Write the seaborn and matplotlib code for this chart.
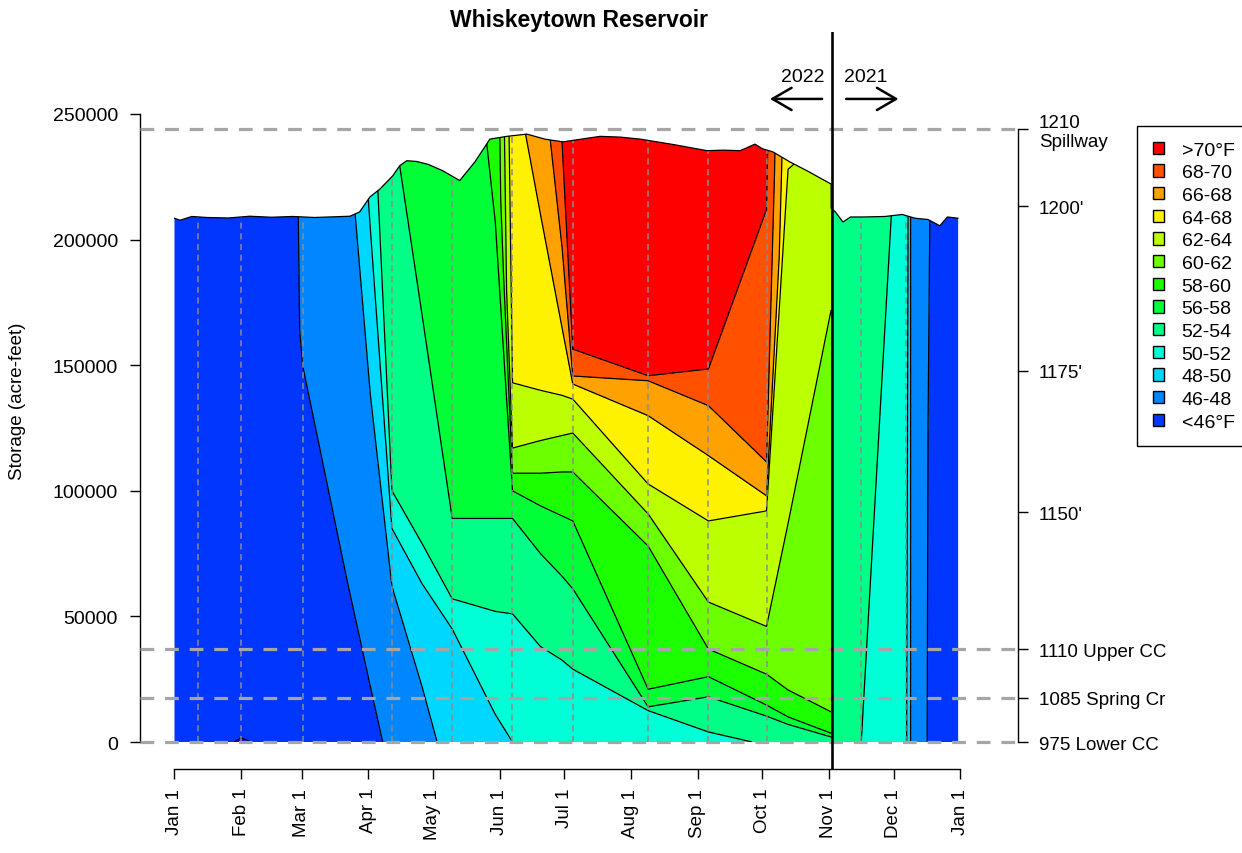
import colorsys
import numpy as np
import matplotlib
matplotlib.use("Agg")
import matplotlib.pyplot as plt
import matplotlib.tri as mtri
from matplotlib.patches import Polygon, Patch
import seaborn as sns

sns.set_theme(style="white")
plt.rcParams['font.family'] = ['Liberation Sans', 'DejaVu Sans']
plt.rcParams['text.color'] = 'black'
plt.rcParams['axes.labelcolor'] = 'black'
plt.rcParams['xtick.color'] = 'black'
plt.rcParams['ytick.color'] = 'black'

# ---------------- data ----------------
# reservoir storage (thousand acre-feet) through the year, 2022 part (Jan 1 - Nov 1)
stor22_day = [0, 2.6, 8, 15, 25, 35, 45, 55, 65, 75, 81.5, 86, 90.8, 95.4, 101.4, 104.6,
              107.9, 112.5, 118, 124.6, 132.5, 139.6, 146.5, 154.4, 163.7, 172, 180.5, 189,
              197.7, 207, 216.3, 232, 247.3, 255, 262.7, 266, 269.6, 273, 278, 285.9, 293.8, 305]
stor22_kaf = [208.5, 207.7, 209.2, 208.8, 208.6, 209.3, 208.9, 209.2, 208.8, 209.1, 209.3, 211.0,
              217.0, 220.1, 225.4, 229.4, 231.4, 231.1, 229.9, 227.4, 223.5, 231.0, 240.0, 241.1,
              242.0, 240.0, 238.9, 240.0, 241.1, 240.8, 240.0, 237.8, 235.4, 235.6, 235.4, 236.6,
              238.0, 236.2, 234.9, 230.9, 227.4, 222.1]
# 2021 part (Nov 1 - Dec 31)
stor21_day = [305, 307, 310.5, 314, 320, 330, 338, 344, 350, 355.5, 359, 364]
stor21_kaf = [212.5, 211.0, 207.0, 209.0, 209.0, 209.2, 210.0, 208.5, 208.0, 205.5, 209.0, 208.5]

# temperature profiles (°F): day of year, storage levels (kaf), temperatures
jan01_day, jan01_s, jan01_t = 0, [0, 250], [45.0, 45.0]
jan11_day, jan11_s, jan11_t = 11, [0, 250], [45.0, 45.0]
jan31_day, jan31_s, jan31_t = 31, [0, 10, 250], [43.8, 45.0, 45.0]
mar01_day, mar01_s, mar01_t = 59.5, [0, 100, 140, 160, 250], [45.0, 45.6, 45.95, 46.05, 46.1]
mar21_day, mar21_s, mar21_t = 80, [0, 65, 150, 210, 250], [45.3, 46.0, 47.0, 47.9, 48.0]
apr01_day, apr01_s, apr01_t = 91, [0, 22, 138, 204, 250], [45.6, 46.0, 48.0, 50.0, 51.0]
apr10_day, apr10_s, apr10_t = 101, [0, 62, 85, 100, 225, 250], [46.3, 48.0, 50.0, 52.0, 55.8, 56.0]
apr25_day, apr25_s, apr25_t = 115, [0, 22, 63, 79, 170, 250], [47.2, 48.0, 50.0, 52.0, 56.0, 57.5]
may09_day, may09_s, may09_t = 129, [0, 45, 57, 89, 250], [48.8, 50.0, 52.0, 56.0, 57.6]
may29_day, may29_s, may29_t = 149, [0, 11, 52, 89, 207, 250], [49.8, 50.0, 52.0, 56.0, 58.0, 58.15]
jun06_day, jun06_s, jun06_t = 157, [0, 51, 89, 100, 107, 117, 143, 250], [50.0, 52.0, 56.0, 58.0, 60.0, 62.0, 64.0, 65.6]
jun19_day, jun19_s, jun19_t = 170, [0, 38, 75, 94, 107, 120, 140, 210, 250], [50.9, 52.0, 56.0, 58.0, 60.0, 62.0, 64.0, 66.0, 66.8]
jun29_day, jun29_s, jun29_t = 180, [0, 32.6, 66, 90, 107.5, 122, 138, 165, 197, 239, 250], [51.0, 52.0, 56.0, 58.0, 60.0, 62.0, 64.0, 66.0, 68.0, 70.0, 70.2]
jul04_day, jul04_s, jul04_t = 185, [0, 29, 61, 88, 107.5, 123, 136.5, 142.5, 145.7, 156.4, 250], [51.0, 52.0, 56.0, 58.0, 60.0, 62.0, 64.0, 66.0, 68.0, 70.0, 72.0]
aug08_day, aug08_s, aug08_t = 220, [0, 12.5, 14, 21, 78, 90.8, 102.7, 129.9, 143.8, 145.8, 250], [50.8, 52.0, 56.0, 58.0, 60.0, 62.0, 64.0, 66.0, 68.0, 70.0, 72.5]
sep05_day, sep05_s, sep05_t = 248, [0, 4, 18, 26, 37, 55.7, 88, 114, 133.9, 148.5, 250], [50.5, 52.0, 56.0, 58.0, 60.0, 62.0, 64.0, 66.0, 68.0, 70.0, 72.0]
oct04_day, oct04_s, oct04_t = 275, [0, 10.3, 14.7, 27, 46, 92, 98, 111.5, 212, 250], [52.5, 56.0, 58.0, 60.0, 62.0, 64.0, 66.0, 68.0, 70.0, 70.5]
oct14_day, oct14_s, oct14_t = 285, [0, 7, 10, 20.7, 87, 228, 250], [53.0, 56.0, 58.0, 60.0, 62.0, 64.0, 64.6]
nov01_day, nov01_s, nov01_t = 305, [0, 2, 3.5, 12, 172, 250], [54.0, 56.0, 58.0, 60.0, 62.0, 64.2]
# 2021 profiles
n01b_day, n01b_s, n01b_t = 305, [0, 250], [53.5, 53.8]
nov15_day, nov15_s, nov15_t = 319, [0, 209, 250], [52.0, 53.6, 53.8]
dec06_day, dec06_s, dec06_t = 340, [0, 209, 250], [50.1, 51.4, 51.5]
dec08_day, dec08_s, dec08_t = 342, [0, 250], [47.9, 47.9]
dec16_day, dec16_s, dec16_t = 350, [0, 250], [45.9, 46.1]
dec31_day, dec31_s, dec31_t = 364, [0, 250], [45.0, 45.0]

# dates of measured profiles (dashed lines)
profile_days = [11, 31, 59.5, 101, 129, 157, 185, 220, 248, 275, 319, 340]

# temperature class boundaries and legend
temp_levels = [40, 44, 46, 48, 50, 52, 56, 58, 60, 62, 64, 66, 68, 70, 80]
legend_labels = [">70°F", "68-70", "66-68", "64-68", "62-64", "60-62", "58-60",
                 "56-58", "52-54", "50-52", "48-50", "46-48", "<46°F"]

# axes annotations
month_days = [0, 31, 59, 90, 120, 151, 181, 212, 243, 273, 304, 334, 365]
month_labels = ["Jan 1", "Feb 1", "Mar 1", "Apr 1", "May 1", "Jun 1", "Jul 1",
                "Aug 1", "Sep 1", "Oct 1", "Nov 1", "Dec 1", "Jan 1"]
storage_ticks = [0, 50000, 100000, 150000, 200000, 250000]
elev_storage = [0, 17600, 36900, 91500, 147800, 213300, 244200]
elev_labels = ["975 Lower CC", "1085 Spring Cr", "1110 Upper CC", "1150'", "1175'",
               "1200'", "1210\nSpillway"]
hline_storage = [244200, 36900, 17600, 0]
break_day = 305.2

# ---------------- helpers ----------------
def rainbow(k):
    return colorsys.hsv_to_rgb(k / 19.0, 1.0, 1.0)

band_colors = [rainbow(k) for k in range(13, -1, -1)]  # low -> high temperature
legend_colors = [rainbow(k) for k in range(13)]


def build(cols):
    """Strip triangulation between neighbouring profiles, pairing points of equal temperature."""
    xs, ys, zs, groups = [], [], [], []
    for day, s, t in cols:
        ids = []
        for sv, tv in zip(s, t):
            ids.append(len(xs))
            xs.append(day)
            ys.append(sv * 1000.0)
            zs.append(tv)
        groups.append(ids)
    tris = []
    for a, b in zip(groups[:-1], groups[1:]):
        i = j = 0
        while i < len(a) - 1 or j < len(b) - 1:
            adv_a = False
            if j == len(b) - 1:
                adv_a = True
            elif i < len(a) - 1:
                adv_a = (zs[a[i + 1]], ys[a[i + 1]]) <= (zs[b[j + 1]], ys[b[j + 1]])
            if adv_a:
                tri = [a[i], b[j], a[i + 1]]
                i += 1
            else:
                tri = [a[i], b[j], b[j + 1]]
                j += 1
            p = [(xs[q], ys[q] / 1000.0) for q in tri]
            area = (p[1][0] - p[0][0]) * (p[2][1] - p[0][1]) - (p[2][0] - p[0][0]) * (p[1][1] - p[0][1])
            if area < 0:
                tri = [tri[0], tri[2], tri[1]]
            tris.append(tri)
    return mtri.Triangulation(np.array(xs), np.array(ys), np.array(tris)), np.array(zs)


cols22 = [(jan01_day, jan01_s, jan01_t), (jan11_day, jan11_s, jan11_t), (jan31_day, jan31_s, jan31_t),
          (mar01_day, mar01_s, mar01_t), (mar21_day, mar21_s, mar21_t), (apr01_day, apr01_s, apr01_t),
          (apr10_day, apr10_s, apr10_t), (apr25_day, apr25_s, apr25_t), (may09_day, may09_s, may09_t),
          (may29_day, may29_s, may29_t), (jun06_day, jun06_s, jun06_t), (jun19_day, jun19_s, jun19_t),
          (jun29_day, jun29_s, jun29_t), (jul04_day, jul04_s, jul04_t), (aug08_day, aug08_s, aug08_t),
          (sep05_day, sep05_s, sep05_t), (oct04_day, oct04_s, oct04_t), (oct14_day, oct14_s, oct14_t),
          (nov01_day, nov01_s, nov01_t)]
cols21 = [(n01b_day, n01b_s, n01b_t), (nov15_day, nov15_s, nov15_t), (dec06_day, dec06_s, dec06_t),
          (dec08_day, dec08_s, dec08_t), (dec16_day, dec16_s, dec16_t), (dec31_day, dec31_s, dec31_t)]

# ---------------- figure ----------------
W, H = 1242, 854
fig = plt.figure(figsize=(W / 100, H / 100), dpi=100)
ax = fig.add_axes([140 / W, (H - 770) / H, 878 / W, 737 / H])
ax.set_xlim(-16.02, 391.8)
ax.set_ylim(-10748, 282640)
ax.set_facecolor("white")

curve_days = stor22_day + stor21_day
curve_af = [v * 1000 for v in stor22_kaf + stor21_kaf]
poly = np.column_stack([[curve_days[0]] + curve_days + [curve_days[-1]],
                        [0] + curve_af + [0]])
clip = Polygon(poly, closed=True, transform=ax.transData, facecolor="none", edgecolor="none")
ax.add_patch(clip)

for cols in (cols22, cols21):
    tri, z = build(cols)
    cf = ax.tricontourf(tri, z, levels=temp_levels, colors=band_colors, zorder=1)
    cf.set_clip_path(clip)
    cl = ax.tricontour(tri, z, levels=temp_levels[1:-1], colors="black", linewidths=0.9, zorder=1.5)
    cl.set_clip_path(clip)

vl = ax.vlines(profile_days, 0, 260000, colors="#8c8c8c", linewidth=1.1, linestyles=(0, (4, 3)), zorder=2)
vl.set_clip_path(clip)

sns.lineplot(x=curve_days, y=curve_af, ax=ax, color="black", linewidth=0.9,
             sort=False, estimator=None, zorder=2.5, legend=False)

for s in hline_storage:
    ax.axhline(s, color="#a6a6a6", linewidth=2.3, dashes=(4.3, 3.4), zorder=3)

ax.axvline(break_day, color="black", linewidth=1.9, zorder=6)

# year arrows
ax.annotate("", xy=(276.6, 256000), xytext=(300.8, 256000),
            arrowprops=dict(arrowstyle="->,head_length=0.55,head_width=0.32", lw=1.8,
                            color="black", mutation_scale=25, shrinkA=0, shrinkB=0), zorder=7)
ax.annotate("", xy=(336.3, 256000), xytext=(312.0, 256000),
            arrowprops=dict(arrowstyle="->,head_length=0.55,head_width=0.32", lw=1.8,
                            color="black", mutation_scale=25, shrinkA=0, shrinkB=0), zorder=7)
ax.text(291.8, 264800, "2022", ha="center", va="center", fontsize=14, zorder=7)
ax.text(321.0, 264800, "2021", ha="center", va="center", fontsize=14, zorder=7)

# axes styling
for side in ("top", "right"):
    ax.spines[side].set_visible(False)
ax.spines["left"].set_bounds(0, 250000)
ax.spines["bottom"].set_bounds(0, 365)
for side in ("left", "bottom"):
    ax.spines[side].set_color("black")
    ax.spines[side].set_linewidth(1.0)
ax.set_xticks(month_days)
ax.set_xticklabels(month_labels, rotation=90, fontsize=13.5)
ax.set_yticks(storage_ticks)
ax.set_yticklabels([str(v) for v in storage_ticks], fontsize=14)
ax.tick_params(axis="x", bottom=True, length=7.5, width=1.0, pad=6, colors="black")
ax.tick_params(axis="y", left=True, length=7, width=1.0, pad=9, colors="black")
ax.grid(False)

ax2 = ax.twinx()
ax2.set_ylim(ax.get_ylim())
for side in ("top", "left", "bottom"):
    ax2.spines[side].set_visible(False)
ax2.spines["right"].set_bounds(0, 244200)
ax2.spines["right"].set_color("black")
ax2.spines["right"].set_linewidth(1.0)
ax2.set_yticks(elev_storage)
ax2.set_yticklabels(elev_labels, fontsize=13.5)
ax2.tick_params(axis="y", right=True, length=7, width=1.0, pad=8, colors="black")
ax2.grid(False)

fig.text(579 / W, 1 - 20 / H, "Whiskeytown Reservoir", ha="center", va="center",
         fontsize=16.5, fontweight="bold", color="black")
fig.text(18 / W, 1 - 401 / H, "Storage (acre-feet)", rotation=90, ha="center", va="center",
         fontsize=13.5, color="black")

handles = [Patch(facecolor=c, edgecolor="black", linewidth=1.0) for c in legend_colors]
leg = fig.legend(handles, legend_labels, loc="upper left", bbox_to_anchor=(1137 / W, 1 - 127 / H),
                 bbox_transform=fig.transFigure, frameon=True, fancybox=False, edgecolor="black",
                 framealpha=1, fontsize=14, handlelength=0.6, handleheight=0.6,
                 handletextpad=0.9, labelspacing=0.29, borderpad=0.8, borderaxespad=0)
leg.get_frame().set_linewidth(1.0)
for txt in leg.get_texts():
    txt.set_color("black")

fig.savefig("out.png", dpi=100)
